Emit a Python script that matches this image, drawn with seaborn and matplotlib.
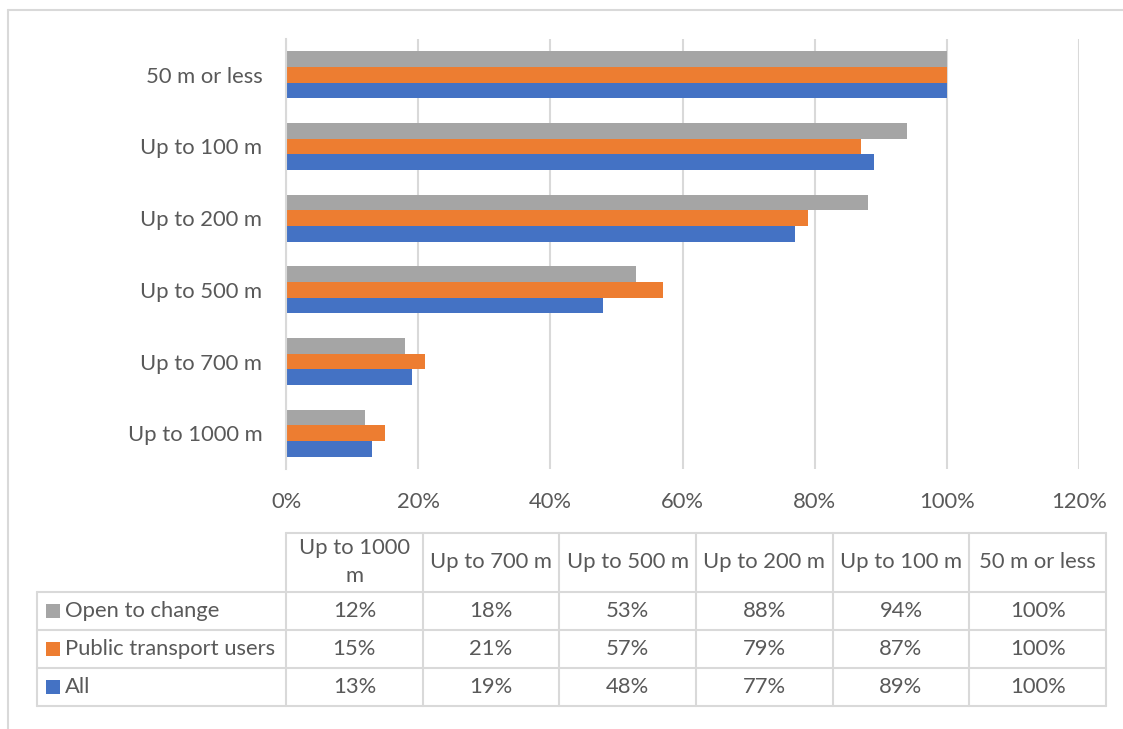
import matplotlib
matplotlib.use("Agg")
import matplotlib.pyplot as plt
from matplotlib.patches import Rectangle
from matplotlib.ticker import PercentFormatter
import seaborn as sns
import pandas as pd

# Distance bands, in table order (farthest first)
categories = ["Up to 1000 m", "Up to 700 m", "Up to 500 m",
              "Up to 200 m", "Up to 100 m", "50 m or less"]
series_names = ["Open to change", "Public transport users", "All"]
open_to_change = [12, 18, 53, 88, 94, 100]
public_transport_users = [15, 21, 57, 79, 87, 100]
all_respondents = [13, 19, 48, 77, 89, 100]
x_ticks = [0, 20, 40, 60, 80, 100, 120]

colors = {"Open to change": "#A5A5A5",
          "Public transport users": "#ED7D31",
          "All": "#4472C4"}
TEXT = "#595959"
GRID = "#D9D9D9"
FONT = "Lato"

series_values = dict(zip(series_names,
                         [open_to_change, public_transport_users, all_respondents]))
rows = []
for name, vals in series_values.items():
    for cat, v in zip(categories, vals):
        rows.append({"band": cat, "group": name, "share": v})
df = pd.DataFrame(rows)

sns.set_theme(style="white")
plt.rcParams["font.family"] = [FONT, "DejaVu Sans"]

W, H = 1123, 729
fig = plt.figure(figsize=(W / 100, H / 100), dpi=100)

# Overlay in pixel coordinates for the frame and the data table
ov = fig.add_axes([0, 0, 1, 1])
ov.set_xlim(0, W)
ov.set_ylim(H, 0)
ov.axis("off")

fs = 15.8

# Bar chart area
left, right, top, bottom = 286, 1079, 39, 469
ax = fig.add_axes([left / W, 1 - bottom / H, (right - left) / W, (bottom - top) / H])
sns.barplot(data=df, y="band", x="share", hue="group",
            order=categories[::-1], hue_order=series_names,
            palette=colors, orient="h", width=0.66, saturation=1,
            edgecolor="none", ax=ax, legend=False)
ax.set_xlim(0, 120)
ax.set_xticks(x_ticks)
ax.xaxis.set_major_formatter(PercentFormatter(decimals=0))
ax.set_xlabel("")
ax.set_ylabel("")
for s in ["top", "right", "bottom"]:
    ax.spines[s].set_visible(False)
ax.spines["left"].set_color(GRID)
ax.spines["left"].set_linewidth(1.5)
ax.grid(axis="x", color=GRID, linewidth=1.5)
ax.set_axisbelow(True)
ax.tick_params(axis="both", length=0, labelsize=fs, labelcolor=TEXT)
ax.tick_params(axis="x", pad=16.5)
ax.tick_params(axis="y", pad=17)

# Outer chart frame (left and top edges)
ov.plot([8, 8], [10, H], color=GRID, lw=1.5)
ov.plot([8, W], [10, 10], color=GRID, lw=1.5)

# Data table beneath the chart
tl = 37
col_edges = [286 + i * (1106 - 286) / 6 for i in range(7)]
row_edges = [533, 592, 630, 668, 706]
lw = 1.5
# header row lines (only over the data columns)
ov.plot([col_edges[0], col_edges[-1]], [row_edges[0]] * 2, color=GRID, lw=lw)
for yv in row_edges[1:]:
    ov.plot([tl, col_edges[-1]], [yv, yv], color=GRID, lw=lw)
ov.plot([tl, tl], [row_edges[1], row_edges[-1]], color=GRID, lw=lw)
for xv in col_edges:
    ov.plot([xv, xv], [row_edges[0], row_edges[-1]], color=GRID, lw=lw)

for i, cat in enumerate(categories):
    cx = (col_edges[i] + col_edges[i + 1]) / 2
    cy = (row_edges[0] + row_edges[1]) / 2
    label = cat
    if cat == "Up to 1000 m":
        label = "Up to 1000\nm"
    ov.text(cx, cy, label, ha="center", va="center", fontsize=fs,
            color=TEXT, linespacing=1.5)

for r, name in enumerate(series_names):
    cy = (row_edges[r + 1] + row_edges[r + 2]) / 2
    ov.add_patch(Rectangle((46, cy - 7), 14, 14, color=colors[name], lw=0))
    ov.text(65, cy, name, ha="left", va="center", fontsize=fs, color=TEXT)
    for i, v in enumerate(series_values[name]):
        cx = (col_edges[i] + col_edges[i + 1]) / 2
        ov.text(cx, cy, f"{v}%", ha="center", va="center", fontsize=fs, color=TEXT)

fig.savefig("out.png", dpi=100)
